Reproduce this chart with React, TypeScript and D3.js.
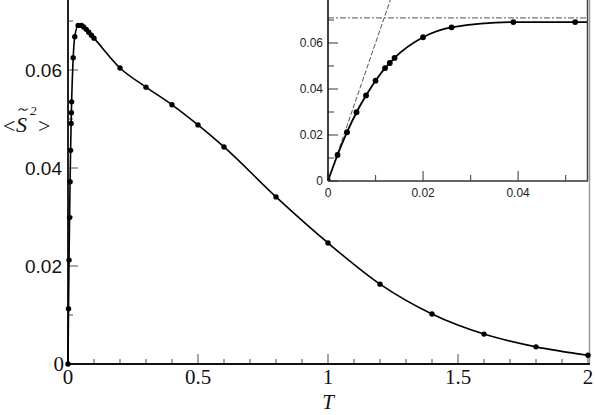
import React from 'react';
import * as d3 from 'd3';

// temperature T and <S~^2>
const temps = [0, 0.002, 0.004, 0.006, 0.008, 0.01, 0.012, 0.013, 0.014, 0.02, 0.026, 0.039, 0.052,
  0.06, 0.07, 0.08, 0.09, 0.1, 0.2, 0.3, 0.4, 0.5, 0.6, 0.8, 1.0, 1.2, 1.4, 1.6, 1.8, 2.0];
const s2 = [0, 0.0113, 0.0212, 0.0299, 0.0372, 0.0436, 0.0491, 0.0513, 0.0535, 0.0625, 0.0668, 0.0691, 0.0691,
  0.0688, 0.0683, 0.0677, 0.0671, 0.0665, 0.0604, 0.0565, 0.0529, 0.0488, 0.0443, 0.0341, 0.0247, 0.0163,
  0.0102, 0.0061, 0.0035, 0.0018];

const xTicks = [0, 0.5, 1, 1.5, 2];
const xTickLabels = ['0', '0.5', '1', '1.5', '2'];
const yTicks = [0, 0.02, 0.04, 0.06];
const yTickLabels = ['0', '0.02', '0.04', '0.06'];
const yMinor = [0.01, 0.03, 0.05, 0.07];

const insetXTicks = [0, 0.02, 0.04];
const insetXLabels = ['0', '0.02', '0.04'];
const insetXMinor = [0.01, 0.03, 0.05];
const insetYTicks = [0, 0.02, 0.04, 0.06];
const insetYLabels = ['0', '0.02', '0.04', '0.06'];
const insetYMinor = [0.01, 0.03, 0.05, 0.07];

// reference lines in the inset
const plateau = 0.0709;
const lowTSlope = 6.0;

type Pt = { t: number; v: number };

export default function App() {
  const data: Pt[] = temps.map((t, i) => ({ t, v: s2[i] }));

  const x = d3.scaleLinear().domain([0, 2]).range([68, 588]);
  const y = d3.scaleLinear().domain([0, 0.075]).range([364, -3.5]);
  const ix = d3.scaleLinear().domain([0, 0.0547]).range([328, 588]);
  const iy = d3.scaleLinear().domain([0, 0.08]).range([181, -3]);

  const mainLine = d3.line<Pt>().x(d => x(d.t)).y(d => y(d.v)).curve(d3.curveMonotoneX);
  const insetLine = d3.line<Pt>().x(d => ix(d.t)).y(d => iy(d.v)).curve(d3.curveMonotoneX);

  const xMinor = d3.range(0, 21).filter(i => i % 5 !== 0).map(i => i / 10);
  const insetData = data.filter(d => d.t <= 0.06);
  const slopeEnd = iy.domain()[1] / lowTSlope;

  const sans = 'Liberation Sans, Arial, sans-serif';
  const serif = 'Liberation Serif, Times New Roman, serif';

  return (
    <svg width={595} height={415} style={{ position: 'absolute', left: 0, top: 0, background: '#fff' }}>
      <defs>
        <clipPath id="insetClip">
          <rect x={ix(0)} y={iy.range()[1]} width={ix.range()[1] - ix(0)} height={iy(0) - iy.range()[1]} />
        </clipPath>
      </defs>

      {/* main plot ticks */}
      {xMinor.map(t => (
        <line key={'xm' + t} x1={x(t)} x2={x(t)} y1={y(0)} y2={y(0) - 5} stroke="#888" strokeWidth={1.5} />
      ))}
      {xTicks.map(t => (
        <line key={'xM' + t} x1={x(t)} x2={x(t)} y1={y(0)} y2={y(0) - 10} stroke="#888" strokeWidth={1.5} />
      ))}
      {yMinor.map(v => (
        <line key={'ym' + v} x1={x(0)} x2={x(0) + 5} y1={y(v)} y2={y(v)} stroke="#888" strokeWidth={1.5} />
      ))}
      {yTicks.map(v => (
        <line key={'yM' + v} x1={x(0)} x2={x(0) + 10} y1={y(v)} y2={y(v)} stroke="#888" strokeWidth={1.5} />
      ))}

      {/* frame */}
      <line x1={x(2) + 1.5} x2={x(2) + 1.5} y1={0} y2={y(0)} stroke="#999" strokeWidth={1.5} />
      <line x1={x(0)} x2={x(2) + 2} y1={y(0)} y2={y(0)} stroke="#111" strokeWidth={2} />
      <line x1={x(0)} x2={x(0)} y1={0} y2={y(0)} stroke="#222" strokeWidth={2} />

      {/* main tick labels */}
      {xTicks.map((t, i) => (
        <text key={'xl' + t} x={x(t)} y={384} textAnchor="middle" fontFamily={serif} fontSize={21} fill="#111">
          {xTickLabels[i]}
        </text>
      ))}
      {yTicks.map((v, i) => (
        <text key={'yl' + v} x={i === 0 ? 64 : 62} y={y(v) + 7} textAnchor="end" fontFamily={i === 0 ? serif : sans}
          fontSize={i === 0 ? 21 : 19} fill="#111">
          {yTickLabels[i]}
        </text>
      ))}

      {/* axis titles */}
      <text x={x(1)} y={409} textAnchor="middle" fontFamily={serif} fontStyle="italic" fontSize={21} fill="#111">T</text>
      <g fontFamily={serif} fill="#111">
        <text x={3} y={133} fontSize={22}>&lt;</text>
        <text x={16} y={132} fontSize={22} fontStyle="italic">S</text>
        <path d="M18.5,110.5 q2,-3 4.5,-1 t4.5,-1" fill="none" stroke="#111" strokeWidth={1.1} />
        <text x={30} y={115} fontSize={13} fontStyle="italic">2</text>
        <text x={38} y={133} fontSize={22}>&gt;</text>
      </g>

      {/* main curve and points */}
      <path d={mainLine(data) || ''} fill="none" stroke="#000" strokeWidth={1.6} />
      {data.map(d => (
        <circle key={'p' + d.t} cx={x(d.t)} cy={y(d.v)} r={2.7} fill="#000" />
      ))}

      {/* inset */}
      <rect x={ix(0)} y={-3} width={ix.range()[1] - ix(0)} height={iy(0) + 3} fill="#fff" />
      <g clipPath="url(#insetClip)">
        <line x1={ix(0)} x2={ix.range()[1]} y1={iy(plateau)} y2={iy(plateau)} stroke="#777" strokeWidth={1.2}
          strokeDasharray="6,2,2,2" />
        <line x1={ix(0)} x2={ix(slopeEnd)} y1={iy(0)} y2={iy(lowTSlope * slopeEnd)} stroke="#555" strokeWidth={1}
          strokeDasharray="5,2" />
        <path d={insetLine(insetData) || ''} fill="none" stroke="#000" strokeWidth={1.8} />
        {insetData.map(d => (
          <circle key={'ip' + d.t} cx={ix(d.t)} cy={iy(d.v)} r={2.9} fill="#000" />
        ))}
      </g>
      {insetXMinor.map(t => (
        <line key={'ixm' + t} x1={ix(t)} x2={ix(t)} y1={iy(0)} y2={iy(0) - 6} stroke="#555" strokeWidth={1.2} />
      ))}
      {insetXTicks.map(t => (
        <line key={'ixM' + t} x1={ix(t)} x2={ix(t)} y1={iy(0)} y2={iy(0) - 10} stroke="#555" strokeWidth={1.2} />
      ))}
      {insetYMinor.map(v => (
        <line key={'iym' + v} x1={ix(0)} x2={ix(0) + 6} y1={iy(v)} y2={iy(v)} stroke="#555" strokeWidth={1.2} />
      ))}
      {insetYTicks.map(v => (
        <line key={'iyM' + v} x1={ix(0)} x2={ix(0) + 10} y1={iy(v)} y2={iy(v)} stroke="#555" strokeWidth={1.2} />
      ))}
      <line x1={ix(0)} x2={ix(0)} y1={-3} y2={iy(0)} stroke="#111" strokeWidth={1.6} />
      <line x1={ix(0)} x2={ix.range()[1]} y1={iy(0)} y2={iy(0)} stroke="#333" strokeWidth={1.6} />
      <line x1={ix.range()[1] - 0.5} x2={ix.range()[1] - 0.5} y1={-3} y2={iy(0)} stroke="#444" strokeWidth={1.5} />
      {insetXTicks.map((t, i) => (
        <text key={'ixl' + t} x={ix(t)} y={197} textAnchor="middle" fontFamily={sans} fontSize={12} fill="#222">
          {insetXLabels[i]}
        </text>
      ))}
      {insetYTicks.map((v, i) => (
        <text key={'iyl' + v} x={323} y={iy(v) + 4} textAnchor="end" fontFamily={sans} fontSize={12} fill="#222">
          {insetYLabels[i]}
        </text>
      ))}
    </svg>
  );
}
